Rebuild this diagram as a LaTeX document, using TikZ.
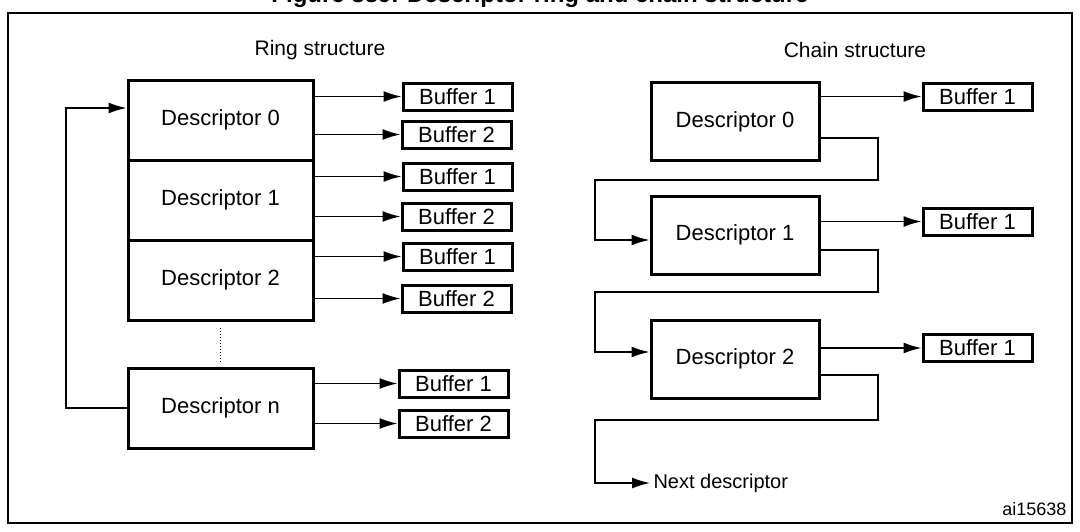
\documentclass[tikz,border=0pt]{standalone}
\usepackage{fontspec}
\setmainfont{Liberation Sans}
\usetikzlibrary{arrows.meta}
\begin{document}
\begin{tikzpicture}[x=1pt,y=-1pt,
  desc/.style={draw,line width=3pt,minimum width=185pt,minimum height=80pt,font=\fontsize{22}{24}\selectfont},
  cdesc/.style={draw,line width=3pt,minimum width=168pt,minimum height=78pt,font=\fontsize{22}{24}\selectfont},
  buf/.style={draw,line width=3pt,minimum width=109pt,minimum height=27pt,inner sep=0pt,font=\fontsize{22}{24}\selectfont},
  lbl/.style={font=\fontsize{21}{24}\selectfont},
  arr/.style={line width=1.6pt,-{Latex[length=18pt,width=11pt]}},
  ln/.style={line width=1.6pt}]
\useasboundingbox (0,0) rectangle (1080,531);
\clip (0,0) rectangle (1080,531);
\node[font=\bfseries\fontsize{24}{26}\selectfont] (title) at (540,-4) {Figure 339. Descriptor ring and chain structure};
\draw[line width=2pt] (8,13) -- (1072,13) -- (1072,523) -- (8,523) -- cycle;
\node[lbl] (rt) at (320,50) {Ring structure};
\node[lbl] (ct) at (855,50) {Chain structure};
% ring
\node[desc] (d0) at (220.5,120) {Descriptor 0};
\node[desc] (d1) at (220.5,200) {Descriptor 1};
\node[desc] (d2) at (220.5,280) {Descriptor 2};
\node[desc] (dn) at (220.5,408) {Descriptor n};
\node (dots) at (220,345) {};
\draw[line width=1pt,dotted] (220,328) -- (220,362);
\foreach \n/\y/\t/\x in {b01/96.5/1/457.5, b02/134.5/2/456.5, b11/176.5/1/457.5, b12/216.5/2/456.5, b21/256.5/1/457.5, b22/298.5/2/456.5, bn1/383.5/1/453.5, bn2/423.5/2/453.5}{
  \node[buf] (\n) at (\x,\y) {Buffer \t};
}
\foreach \d/\b in {d0/b01,d0/b02,d1/b11,d1/b12,d2/b21,d2/b22,dn/bn1,dn/bn2}{
  \draw[arr] (\d.east |- \b) -- (\b.west);
}
\draw[arr] (dn.west) -- (66,408) -- (66,108) -- (d0.west |- 0,108);
% chain
\node[cdesc] (c0) at (735,121.5) {Descriptor 0};
\node[cdesc] (c1) at (735,235) {Descriptor 1};
\node[cdesc] (c2) at (735,359) {Descriptor 2};
\node[buf] (e0) at (977.5,96.5) {Buffer 1};
\node[buf] (e1) at (977.5,221.5) {Buffer 1};
\node[buf] (e2) at (977.5,348) {Buffer 1};
\draw[arr] (c0.east |- e0) -- (e0.west);
\draw[arr] (c1.east |- e1) -- (e1.west);
\draw[arr] (c2.east |- e2) -- (e2.west);
\draw[arr] (c0.east |- 0,138) -- (878,138) -- (878,180) -- (595,180) -- (595,240) -- (c1.west |- 0,240);
\draw[arr] (c1.east |- 0,250) -- (878,250) -- (878,292) -- (595,292) -- (595,352) -- (c2.west |- 0,352);
\coordinate (nx) at (650,483);
\draw[arr] (c2.east |- 0,375) -- (878,375) -- (878,420) -- (595,420) -- (595,483) -- (nx);
\node[font=\fontsize{20}{22}\selectfont,anchor=west] (nd) at (nx) {Next descriptor};
\node[font=\fontsize{18}{20}\selectfont,anchor=east] (id) at (1070,509) {ai15638};
\end{tikzpicture}
\end{document}
